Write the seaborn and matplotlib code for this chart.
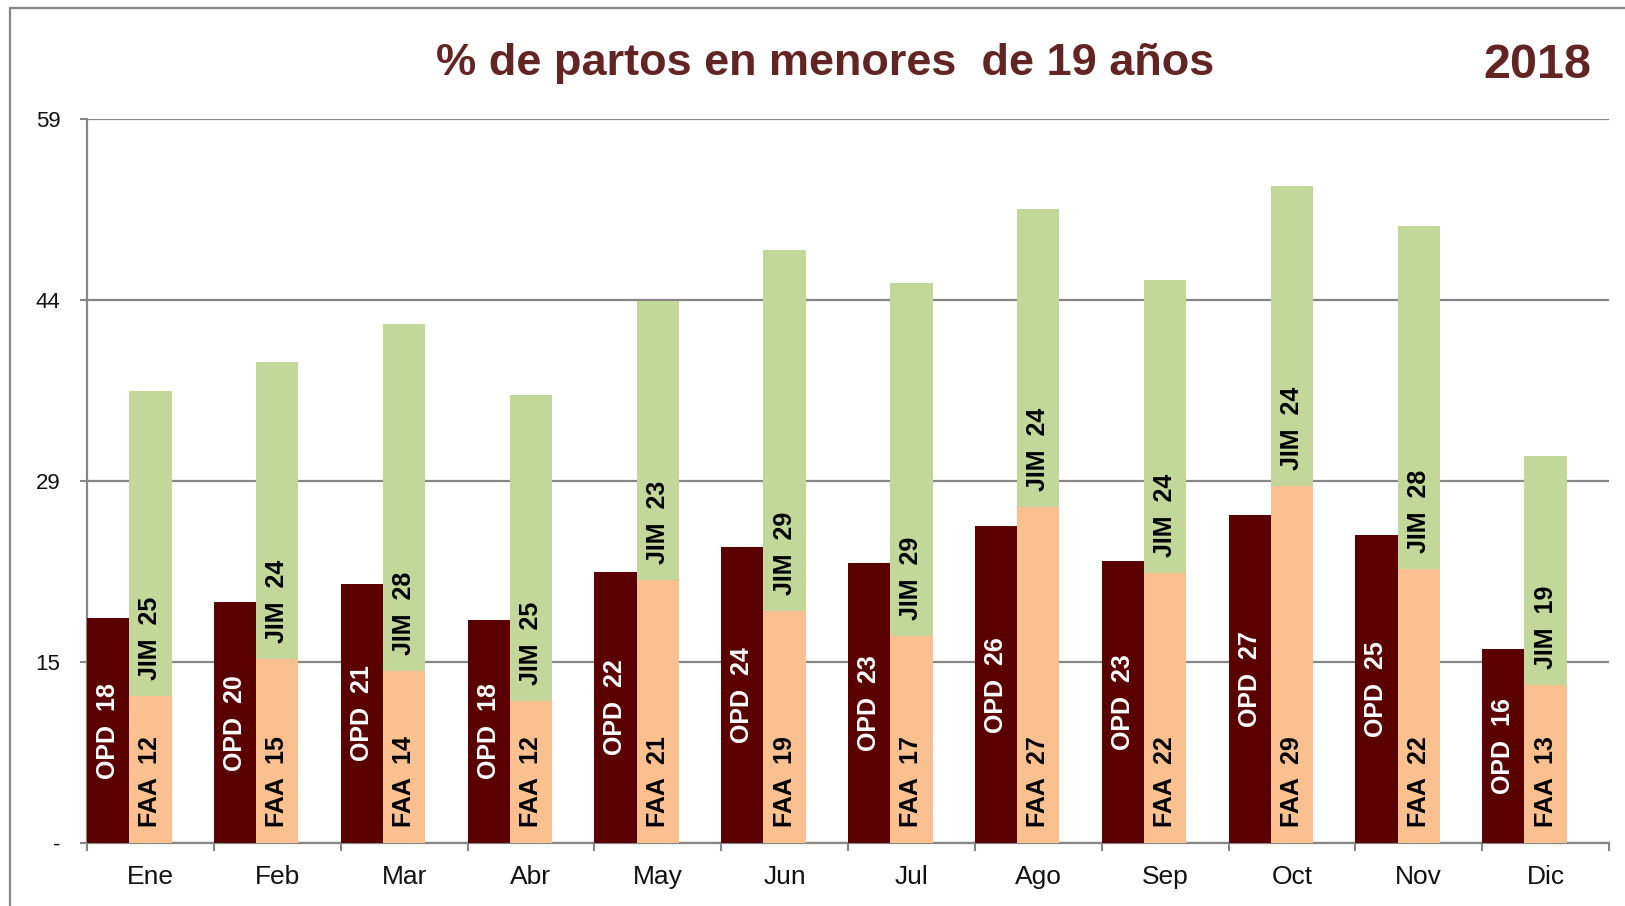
import matplotlib
matplotlib.use("Agg")
import matplotlib.pyplot as plt
import seaborn as sns
import numpy as np
import pandas as pd
from matplotlib.lines import Line2D

# ---- data ----
months = ["Ene", "Feb", "Mar", "Abr", "May", "Jun", "Jul", "Ago", "Sep", "Oct", "Nov", "Dic"]
opd = [18.3, 19.6, 21.1, 18.2, 22.1, 24.1, 22.8, 25.8, 23.0, 26.7, 25.1, 15.8]
faa = [12.0, 15.0, 14.0, 11.6, 21.4, 18.9, 16.9, 27.4, 22.0, 29.1, 22.3, 12.9]
jim = [24.8, 24.2, 28.3, 24.9, 22.8, 29.4, 28.7, 24.3, 23.9, 24.4, 28.0, 18.6]
ytick_vals = [0, 14.75, 29.5, 44.25, 59]
ytick_labels = ["-", "15", "29", "44", "59"]
title = "% de partos en menores  de 19 años"
year = "2018"

C_OPD = "#5A0000"
C_FAA = "#FAC090"
C_JIM = "#C4D79B"
C_TITLE = "#632523"
C_GRAY = "#868686"

sns.set_theme(style="white")
plt.rcParams["font.family"] = ["Liberation Sans", "DejaVu Sans"]

fig = plt.figure(figsize=(16.25, 9.06), dpi=100)
ax = fig.add_axes([87 / 1625, 1 - 843 / 906, (1609 - 87) / 1625, (843 - 119) / 906])

idx = np.arange(len(months))
df = pd.DataFrame({
    "month": months,
    "opd_x": idx - 1 / 3,
    "stk_x": idx.astype(float),
    "opd": opd,
    "faa": faa,
    "jim": jim,
})
df["total"] = df["faa"] + df["jim"]

sns.barplot(data=df, x="opd_x", y="opd", native_scale=True, width=1 / 3,
            color=C_OPD, saturation=1, linewidth=0, errorbar=None, ax=ax, zorder=3)
sns.barplot(data=df, x="stk_x", y="total", native_scale=True, width=1 / 3,
            color=C_JIM, saturation=1, linewidth=0, errorbar=None, ax=ax, zorder=3)
sns.barplot(data=df, x="stk_x", y="faa", native_scale=True, width=1 / 3,
            color=C_FAA, saturation=1, linewidth=0, errorbar=None, ax=ax, zorder=3)

lab_fs = 18
for i, r in df.iterrows():
    ax.text(r["opd_x"], r["opd"] / 2, f"OPD  {r['opd']:.0f}", rotation=90,
            ha="center", va="center", color="white", fontsize=lab_fs,
            fontweight="bold", zorder=5)
    ax.annotate(f"FAA  {r['faa']:.0f}", xy=(r["stk_x"], 0), xytext=(0, 11.5),
                textcoords="offset points", rotation=90, ha="center", va="bottom",
                color="black", fontsize=lab_fs, fontweight="bold", zorder=5)
    ax.annotate(f"JIM  {r['jim']:.0f}", xy=(r["stk_x"], r["faa"]), xytext=(0, 11.5),
                textcoords="offset points", rotation=90, ha="center", va="bottom",
                color="black", fontsize=lab_fs, fontweight="bold", zorder=5)

ax.set_xlim(-0.5, len(months) - 0.5)
ax.set_ylim(0, 59)
ax.set_xlabel("")
ax.set_ylabel("")

ax.set_xticks(idx)
ax.set_xticklabels(months, fontsize=19, color="#111111")
ax.set_xticks(np.arange(len(months) + 1) - 0.5, minor=True)
ax.tick_params(axis="x", which="major", length=0, pad=16)
ax.tick_params(axis="x", which="minor", length=6, width=1.5, color=C_GRAY,
               direction="out", bottom=True)

ax.set_yticks(ytick_vals)
ax.set_yticklabels(ytick_labels, fontsize=16, color="#111111")
ax.tick_params(axis="y", which="major", length=5, width=1.5, color=C_GRAY,
               direction="out", pad=14, left=True)

ax.yaxis.grid(True, color=C_GRAY, linewidth=1.6, zorder=0)
ax.xaxis.grid(False)
ax.set_axisbelow(True)
for s in ["top", "right"]:
    ax.spines[s].set_visible(False)
for s in ["left", "bottom"]:
    ax.spines[s].set_color(C_GRAY)
    ax.spines[s].set_linewidth(1.6)
ax.set_facecolor("white")

fig.text(825 / 1625, 1 - 63 / 906, title, ha="center", va="center",
         fontsize=32.5, fontweight="bold", color=C_TITLE)
fig.text(1591 / 1625, 1 - 65 / 906, year, ha="right", va="center",
         fontsize=35, fontweight="bold", color=C_TITLE)

# outer frame
fx = 10 / 1625
fy = 1 - 8 / 906
fig.add_artist(Line2D([fx, fx], [0, fy], transform=fig.transFigure, color=C_GRAY, lw=1.6))
fig.add_artist(Line2D([fx, 1], [fy, fy], transform=fig.transFigure, color=C_GRAY, lw=1.6))

fig.savefig("out.png", dpi=100, facecolor="white")
